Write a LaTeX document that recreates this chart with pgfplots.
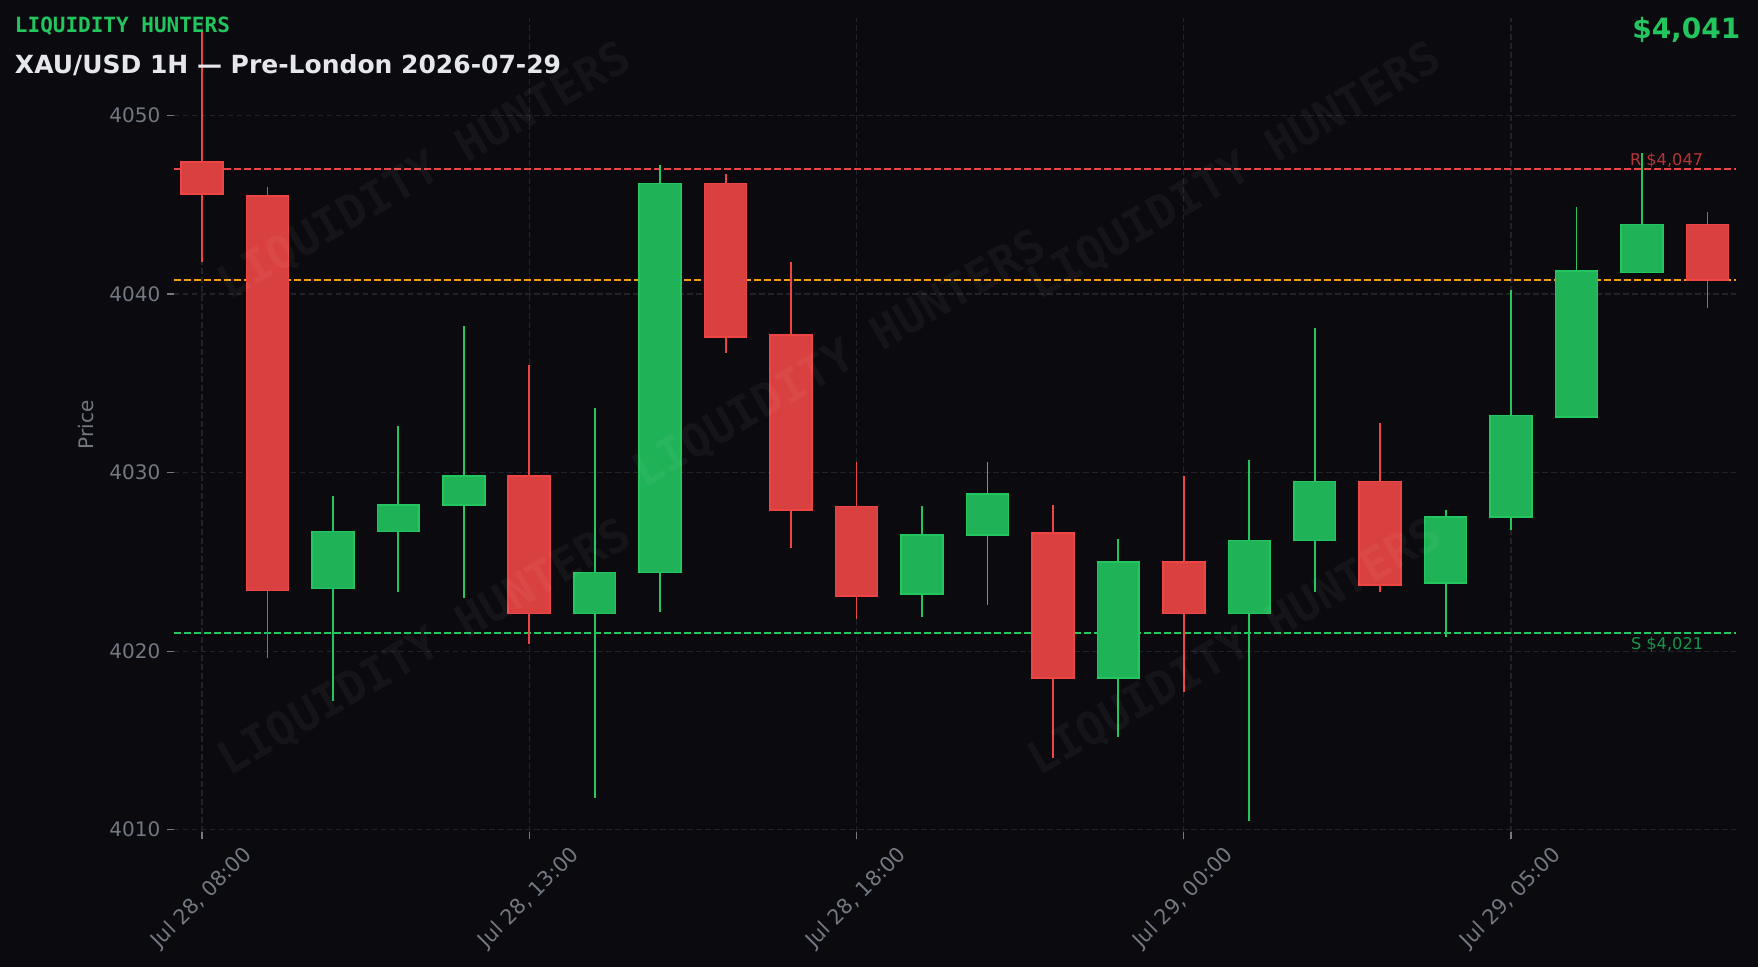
\documentclass[border=0pt]{standalone}
\usepackage{fontspec}
\setmainfont{DejaVu Sans}
\newfontfamily\monofam{DejaVu Sans Mono}
\usepackage{pgfplots}
\usepackage{pgfplotstable}
\pgfplotsset{compat=1.18}

\definecolor{bg}{RGB}{10,10,15}
\definecolor{upc}{HTML}{22C55E}
\definecolor{upfill}{RGB}{32,178,86}
\definecolor{dnc}{HTML}{EF4444}
\definecolor{dnfill}{RGB}{217,64,64}
\definecolor{orng}{HTML}{F59E0B}
\definecolor{gridc}{RGB}{34,34,44}
\definecolor{labgrey}{RGB}{115,120,130}
\definecolor{titlec}{RGB}{229,231,235}
\definecolor{rlab}{RGB}{182,54,55}
\definecolor{slab}{RGB}{19,150,74}

% candles: x open high low close
\pgfplotstableread{
x open high low close
2 4023.5 4028.7 4017.2 4026.7
3 4026.7 4032.6 4023.3 4028.2
4 4028.2 4038.2 4023.0 4029.8
6 4022.1 4033.6 4011.8 4024.4
7 4024.4 4047.2 4022.2 4046.2
11 4023.2 4028.1 4021.9 4026.5
12 4026.5 4030.6 4022.6 4028.8
14 4018.5 4026.3 4015.2 4025.0
16 4022.1 4030.7 4010.5 4026.2
17 4026.2 4038.1 4023.3 4029.5
19 4023.8 4027.9 4020.8 4027.5
20 4027.5 4040.2 4026.8 4033.2
21 4033.1 4044.9 4033.1 4041.3
22 4041.2 4047.9 4041.2 4043.9
}\upcandles

\pgfplotstableread{
x open high low close
0 4047.4 4054.8 4041.8 4045.6
1 4045.5 4046.0 4019.6 4023.4
5 4029.8 4036.0 4020.4 4022.1
8 4046.2 4046.7 4036.7 4037.6
9 4037.7 4041.8 4025.8 4027.9
10 4028.1 4030.6 4021.8 4023.1
13 4026.6 4028.2 4014.0 4018.5
15 4025.0 4029.8 4017.7 4022.1
18 4029.5 4032.8 4023.3 4023.7
23 4043.9 4044.6 4039.2 4040.8
}\downcandles

% axis: 407pt for 45.59 units (y), 780.9pt for 23.86 units (x)
\def\yunit{8.9274}
\def\halfbody{10.47}

\pgfplotsset{
  candle/.style 2 args={
    only marks, scatter, mark=*, mark size=0pt,
    mark options={draw=none, fill=none},
    visualization depends on={\thisrow{high}-\thisrow{low} \as \cHL},
    visualization depends on={\thisrow{open}-\thisrow{low} \as \cOL},
    visualization depends on={\thisrow{close}-\thisrow{low} \as \cCL},
    scatter/@pre marker code/.code={%
      \pgfmathsetmacro\hh{\cHL*\yunit}%
      \pgfmathsetmacro\oo{\cOL*\yunit}%
      \pgfmathsetmacro\cc{\cCL*\yunit}%
      \draw[#1, line width=0.9pt] (0pt,0pt) -- (0pt,\hh pt);
      \filldraw[draw=#1, fill=#2, line width=0.8pt]
        (-\halfbody pt,\oo pt) rectangle (\halfbody pt,\cc pt);
    },
    scatter/@post marker code/.code={},
  },
  level/.style={line width=0.8pt, dash pattern=on 3.6pt off 1.4pt},
}

\begin{document}
\begin{tikzpicture}
\fill[bg] (0,0) rectangle (879pt,483.5pt);
\path[use as bounding box] (0,0) rectangle (879pt,483.5pt);
\begin{axis}[
  at={(86.9pt,67.5pt)}, anchor=south west,
  scale only axis, width=780.9pt, height=407pt,
  xmin=-0.43, xmax=23.43, ymin=4009.87, ymax=4055.46,
  axis line style={draw=none},
  xtick={0,5,10,15,20},
  xticklabels={{Jul 28, 08:00},{Jul 28, 13:00},{Jul 28, 18:00},{Jul 29, 00:00},{Jul 29, 05:00}},
  ytick={4010,4020,4030,4040,4050},
  xtick pos=bottom, ytick pos=left,
  tick align=outside, major tick length=3.5pt,
  tick style={color=labgrey, line width=0.6pt},
  grid=major,
  major grid style={color=gridc, line width=0.6pt, dash pattern=on 2.85pt off 1.65pt},
  tick label style={font=\fontsize{10}{12}\selectfont, color=labgrey},
  /pgf/number format/1000 sep={},
  /pgf/number format/assume math mode=true,
  yticklabel style={anchor=east, inner sep=0pt, xshift=-3.05pt},
  xticklabel style={yshift=-29.5pt, rotate=45, anchor=center, inner sep=0pt,
    font=\fontsize{10.4}{12}\selectfont},
  ylabel={Price},
  ylabel style={at={(axis description cs:-0.0563,0.5)}, anchor=center,
    font=\fontsize{10}{12}\selectfont, color=labgrey, inner sep=0pt},
  clip=false,
]
\addplot[candle={upc}{upfill}] table[x=x, y=low] {\upcandles};
\addplot[candle={dnc}{dnfill}] table[x=x, y=low] {\downcandles};
\addplot[dnc, level] coordinates {(-0.43,4047) (23.43,4047)};
\addplot[orng, level] coordinates {(-0.43,4040.8) (23.43,4040.8)};
\addplot[upc, level] coordinates {(-0.43,4021) (23.43,4021)};
\node[anchor=base east, inner sep=0pt, yshift=1.6pt, text=rlab, font=\fontsize{8.1}{10}\selectfont] at (axis cs:22.94,4047) {R \$4,047};
\node[anchor=base east, inner sep=0pt, yshift=-8pt, text=slab, font=\fontsize{8.1}{10}\selectfont] at (axis cs:22.94,4021) {S \$4,021};
\end{axis}
% watermarks
\foreach \wx/\wy in {212.5/397.5, 617.5/397.5, 420/303.5, 212.5/159.5, 617.5/159.5}{
  \node[rotate=30, text=white, text opacity=0.045, font=\monofam\bfseries\fontsize{22.8}{26}\selectfont] at (\wx pt,\wy pt) {LIQUIDITY HUNTERS};
}
% titles
\node[anchor=base west, inner sep=0pt, text=upc, font=\monofam\bfseries\fontsize{10.5}{12}\selectfont] at (7.3pt,467.2pt) {LIQUIDITY HUNTERS};
\node[anchor=base west, inner sep=0pt, text=titlec, font=\bfseries\fontsize{12.5}{15}\selectfont] at (7.3pt,446.85pt) {XAU/USD 1H — Pre-London 2026-07-29};
\node[anchor=base east, inner sep=0pt, text=upc, font=\bfseries\fontsize{14}{17}\selectfont] at (870.35pt,464.3pt) {\$4,041};
\end{tikzpicture}
\end{document}
